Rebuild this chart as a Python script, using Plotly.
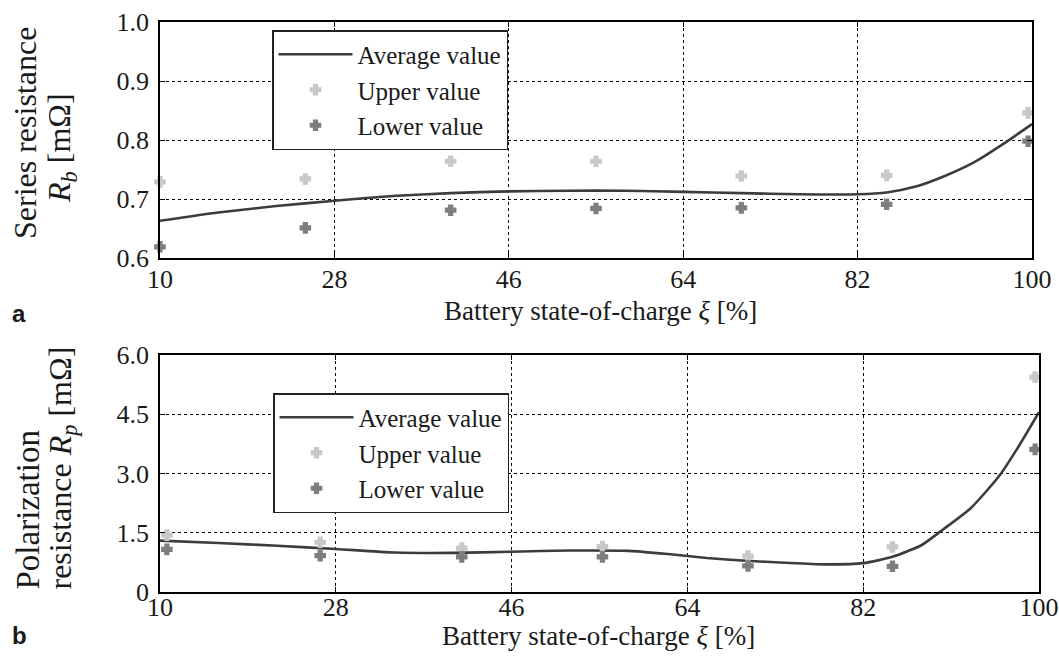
import plotly.graph_objects as go

# ---------------- data ----------------
# panel a: series resistance R_b [mOhm]
soc_pts_a = [10, 25, 40, 55, 70, 85, 99.6]
upper_a = [0.729, 0.734, 0.764, 0.764, 0.739, 0.740, 0.846]
lower_a = [0.619, 0.651, 0.681, 0.684, 0.685, 0.691, 0.798]
soc_avg_a = [10, 16, 22, 28, 34, 40, 46, 52, 58, 64, 70, 76, 82, 85, 88, 91, 94, 97, 100]
avg_a = [0.663, 0.677, 0.688, 0.697, 0.705, 0.710, 0.713, 0.714, 0.714, 0.712, 0.710,
         0.708, 0.708, 0.711, 0.721, 0.739, 0.762, 0.793, 0.827]

# panel b: polarization resistance R_p [mOhm]
soc_pts_b = [10.7, 26.4, 40.9, 55.3, 70.2, 85.0, 99.6]
upper_b = [1.44, 1.26, 1.11, 1.15, 0.91, 1.14, 5.44]
lower_b = [1.08, 0.92, 0.89, 0.89, 0.66, 0.65, 3.61]
soc_avg_b = [10, 16, 22, 28, 34, 40, 46, 52, 58, 62, 66, 70, 74, 78, 82, 85, 88, 90, 93, 96, 98, 100]
avg_b = [1.30, 1.24, 1.17, 1.09, 1.00, 0.99, 1.02, 1.05, 1.04, 0.96, 0.86, 0.79, 0.74, 0.70,
         0.73, 0.89, 1.19, 1.55, 2.12, 2.96, 3.72, 4.55]

x_ticks = [10, 28, 46, 64, 82, 100]
y_ticks_a = [0.6, 0.7, 0.8, 0.9, 1.0]
y_ticklabels_a = ["0.6", "0.7", "0.8", "0.9", "1.0"]
y_ticks_b = [0, 1.5, 3.0, 4.5, 6.0]
y_ticklabels_b = ["0", "1.5", "3.0", "4.5", "6.0"]

names = ["Average value", "Upper value", "Lower value"]

# ---------------- styling ----------------
W, H = 1059, 657
SERIF = "Liberation Serif"
LINE_C = "#3c3c3c"
UP_C = "#c8c8c8"
LO_C = "#7e7e7e"
TXT_C = "#1a1a1a"


def px(x):
    return x / W


def py(y):
    return 1 - y / H


fig = go.Figure()

for (sx, up, lo, sa, av, xa, ya, leg) in [
    (soc_pts_a, upper_a, lower_a, soc_avg_a, avg_a, "x", "y", "legend"),
    (soc_pts_b, upper_b, lower_b, soc_avg_b, avg_b, "x2", "y2", "legend2"),
]:
    fig.add_trace(go.Scatter(x=sa, y=av, mode="lines", name=names[0],
                             line=dict(color=LINE_C, width=2.6, shape="spline", smoothing=0.6),
                             xaxis=xa, yaxis=ya, legend=leg))
    fig.add_trace(go.Scatter(x=sx, y=up, mode="markers", name=names[1],
                             marker=dict(symbol="cross", size=8, color=UP_C,
                                         line=dict(color=UP_C, width=2)),
                             xaxis=xa, yaxis=ya, legend=leg, cliponaxis=False))
    fig.add_trace(go.Scatter(x=sx, y=lo, mode="markers", name=names[2],
                             marker=dict(symbol="cross", size=8, color=LO_C,
                                         line=dict(color=LO_C, width=2)),
                             xaxis=xa, yaxis=ya, legend=leg, cliponaxis=False))

axis_common = dict(
    showline=True, linecolor="black", linewidth=1.5, mirror="ticks",
    ticks="inside", ticklen=5, tickcolor="black", automargin=False,
    showgrid=True, gridcolor="black", gridwidth=1, griddash="dot",
    zeroline=False, tickfont=dict(family=SERIF, size=26, color=TXT_C),
    ticklabeloverflow="allow",
)

leg_common = dict(xanchor="left", yanchor="top",
                  bgcolor="white", bordercolor="#222", borderwidth=1.5,
                  font=dict(family=SERIF, size=25, color=TXT_C),
                  itemwidth=74, tracegroupgap=0, itemsizing="trace")

fig.update_layout(
    template="none",
    width=W, height=H,
    margin=dict(l=0, r=0, t=0, b=0, autoexpand=False),
    paper_bgcolor="white", plot_bgcolor="white",
    showlegend=True,
    font=dict(family=SERIF, color=TXT_C),
    xaxis=dict(domain=[px(160), px(1032)], range=[10, 100], tickvals=x_ticks,
               anchor="y", ticklabelstandoff=-3, **axis_common),
    yaxis=dict(domain=[py(258), py(22)], range=[0.6, 1.0], tickvals=y_ticks_a,
               ticktext=y_ticklabels_a, anchor="x", ticklabelstandoff=4, **axis_common),
    xaxis2=dict(domain=[px(160), px(1039)], range=[10, 100], tickvals=x_ticks,
                anchor="y2", ticklabelstandoff=-9, **axis_common),
    yaxis2=dict(domain=[py(592), py(355)], range=[0, 6.0], tickvals=y_ticks_b,
                ticktext=y_ticklabels_b, anchor="x2", ticklabelstandoff=4, **axis_common),
    legend=dict(x=px(272), y=py(30), **leg_common),
    legend2=dict(x=px(273), y=py(393), **leg_common),
)

ann_font = dict(family=SERIF, size=27, color=TXT_C)
ytitle_font = dict(family=SERIF, size=32, color=TXT_C)
annotations = [
    dict(text="Battery state-of-charge <i>ξ</i> [%]", x=px(600), y=py(311),
         font=ann_font),
    dict(text="Battery state-of-charge <i>ξ</i> [%]", x=px(598), y=py(636),
         font=ann_font),
    dict(text="<b>a</b>", x=px(19), y=py(313),
         font=dict(family="Liberation Sans", size=24, color=TXT_C)),
    dict(text="<b>b</b>", x=px(19), y=py(635),
         font=dict(family="Liberation Sans", size=24, color=TXT_C)),
    dict(text="Series resistance", x=px(25), y=py(133), textangle=-90, font=ytitle_font),
    dict(text="<i>R</i><sub><i>b</i></sub> [mΩ]", x=px(61), y=py(148), textangle=-90,
         font=ytitle_font),
    dict(text="Polarization", x=px(27), y=py(592), yanchor="bottom", textangle=-90,
         font=dict(family=SERIF, size=33, color=TXT_C)),
    dict(text="resistance <i>R</i><sub><i>p</i></sub> [mΩ]", x=px(62), y=py(592),
         yanchor="bottom", textangle=-90, font=ytitle_font),
]
for a in annotations:
    a.setdefault("xref", "paper")
    a.setdefault("yref", "paper")
    a.setdefault("showarrow", False)
    a.setdefault("xanchor", "center")
    a.setdefault("yanchor", "middle")
fig.update_layout(annotations=annotations)

# remove the default page margin so the figure fills the window exactly
fig.write_html(
    "out.html",
    config={"displayModeBar": False},
    post_script="document.body.style.margin='0';document.body.style.overflow='hidden';",
)
